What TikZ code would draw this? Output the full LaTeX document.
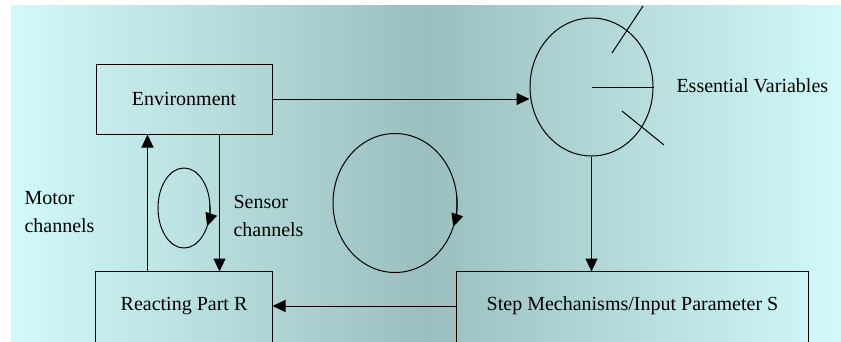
\documentclass[tikz,border=0pt]{standalone}
\usepackage{fontspec}
\setmainfont{Liberation Serif}
\usetikzlibrary{arrows.meta,shapes.geometric}
\definecolor{bgedge}{RGB}{210,250,250}
\definecolor{bgmid}{RGB}{155,190,190}
\begin{document}
\begin{tikzpicture}[x=1pt,y=-1pt,line width=1pt,
  lbl/.style={font=\fontsize{20}{28}\selectfont, inner sep=0pt},
  tip/.style={-{Triangle[length=13pt,width=12pt]}},
]
\useasboundingbox (0,0) rectangle (841,341);
\clip (0,0) rectangle (841,341);
\fill[white] (0,0) rectangle (841,341);
\shade[left color=bgedge, right color=bgedge, middle color=bgmid] (11,5) rectangle (841,341);

% blocks
\node[lbl, draw, minimum width=176pt, minimum height=70pt] (env) at (184,99) {Environment};
\node[lbl, minimum width=176pt, minimum height=68pt] (react) at (184,306) {Reacting Part R};
\draw ([yshift=-12pt]react.south west) -- (react.north west) -- (react.north east) -- ([yshift=-12pt]react.south east);
\node[lbl, minimum width=351pt, minimum height=68pt] (step) at (632.5,306) {Step Mechanisms/Input Parameter S};
\draw ([yshift=-12pt]step.south west) -- (step.north west) -- (step.north east) -- ([yshift=-12pt]step.south east);

% essential variables dial
\node[ellipse, draw, minimum width=123pt, minimum height=138pt, inner sep=0pt] (ev) at (591.5,87) {};
\draw (ev.center) -- (ev.east);
\draw (612,53) -- (643,6);
\draw (622,111) -- (664,145);
\node[lbl, anchor=west] (evl) at (676,86) {Essential Variables};

% channels
\node[lbl, align=left, anchor=west] (motor) at (24,212) {Motor\\channels};
\node[lbl, align=left, anchor=west] (sensor) at (233,216) {Sensor\\channels};

% connectors
\draw[tip] (env.east) -- (ev.west |- env.east);
\draw[tip] (ev.south) -- (ev.south |- step.north);
\draw[tip] (step.west) -- (react.east);
\draw[tip] ([xshift=52pt]react.north west) -- ([xshift=52pt]env.south west);
\draw[tip] ([xshift=124pt]env.south west) -- ([xshift=124pt]react.north west);

% feedback loops
\coordinate (inner) at (184,208);
\draw (inner) ellipse [x radius=26, y radius=40];
\draw[tip] ([shift={(-5:26 and 40)}]inner) arc[start angle=-5, end angle=27, x radius=26, y radius=40];
\coordinate (outer) at (395,203);
\draw (outer) ellipse [x radius=62, y radius=69.5];
\draw[tip] ([shift={(-5:62 and 69.5)}]outer) arc[start angle=-5, end angle=20, x radius=62, y radius=69.5];
\end{tikzpicture}
\end{document}
